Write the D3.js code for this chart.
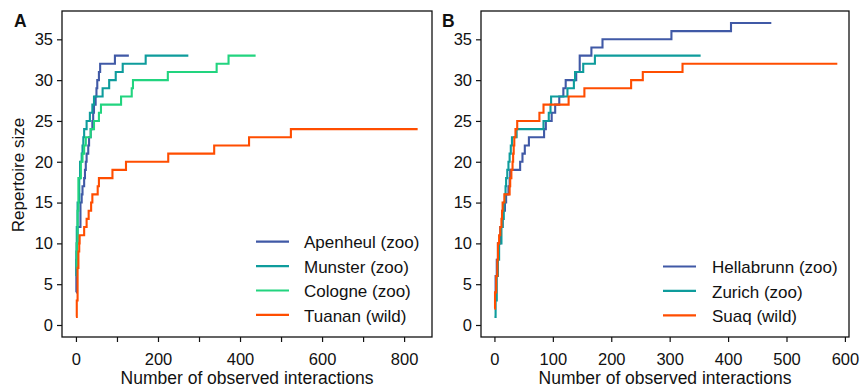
<!DOCTYPE html>
<html><head><meta charset="utf-8">
<script src="https://cdn.jsdelivr.net/npm/d3@7"></script>
<style>
body{margin:0;background:#fff;}
text{font-family:"Liberation Sans",Arial,sans-serif;fill:#111;}
</style></head>
<body><svg id="c" width="860" height="388"></svg>
<script>
// ---- Data ----
const apenheulX = [0,1,2,4,11,14,16,20,22,24,26,30,32,36,40,42,44,48,50,52,56,59,95,129];
const apenheulY = [4,8,10,12,15,16,17,18,19,20,21,22,23,24,25,26,27,28,29,30,31,32,33,33];
const munsterX = [0,1,2,4,8,10,14,16,18,20,26,34,40,44,65,81,97,114,170,274];
const munsterY = [6,9,12,15,18,20,21,22,23,24,25,26,27,28,29,30,31,32,33,33];
const cologneX = [0,2,4,6,12,16,20,24,36,44,56,61,110,136,139,224,343,372,438];
const cologneY = [7,10,14,18,20,21,22,23,24,25,26,27,28,29,30,31,32,33,33];
const tuananX = [0,2,4,6,8,9,20,26,31,37,40,53,56,89,122,225,337,422,524,833];
const tuananY = [1,3,7,9,10,11,12,13,14,15,16,17,18,19,20,21,22,23,24,24];

const hellabrunnX = [0,2,4,6,10,14,18,20,24,26,27,44,48,52,59,85,88,98,104,111,118,122,140,146,166,185,303,405,474];
const hellabrunnY = [4,6,8,10,12,14,15,16,17,18,19,20,21,22,23,24,25,26,27,28,29,30,31,33,34,35,36,37,37];
const zurichX = [0,2,4,6,8,12,14,16,18,19,20,22,24,26,28,30,38,84,93,96,97,125,136,138,152,172,353];
const zurichY = [1,3,6,8,10,12,13,15,16,17,18,19,20,21,22,23,24,25,26,27,28,29,30,31,32,33,33];
const suaqX = [0,1,3,5,6,8,10,12,13,14,17,26,27,29,31,32,33,34,36,39,77,84,127,154,234,254,322,587];
const suaqY = [2,4,6,8,10,11,12,13,14,15,16,17,18,19,20,21,22,23,24,25,26,27,28,29,30,31,32,32];

const namesA = ["Apenheul (zoo)","Munster (zoo)","Cologne (zoo)","Tuanan (wild)"];
const namesB = ["Hellabrunn (zoo)","Zurich (zoo)","Suaq (wild)"];
const yTicks = [0,5,10,15,20,25,30,35];
const xTicksA = [0,100,200,300,400,500,600,700,800];
const xLabelsA = [0,200,400,600,800];
const xTicksB = [0,100,200,300,400,500,600];

const cBlue="#4059A6", cTeal="#0E9C9C", cGreen="#22D47F", cOrange="#FF4D00";

const seriesA = [
  {name:namesA[0], xs:apenheulX, ys:apenheulY, color:cBlue},
  {name:namesA[1], xs:munsterX, ys:munsterY, color:cTeal},
  {name:namesA[2], xs:cologneX, ys:cologneY, color:cGreen},
  {name:namesA[3], xs:tuananX, ys:tuananY, color:cOrange}
];
const seriesB = [
  {name:namesB[0], xs:hellabrunnX, ys:hellabrunnY, color:cBlue},
  {name:namesB[1], xs:zurichX, ys:zurichY, color:cTeal},
  {name:namesB[2], xs:suaqX, ys:suaqY, color:cOrange}
];

const svg = d3.select("#c");
const y = d3.scaleLinear().domain([-1.47, 38.47]).range([337, 11]);

function panel(opts){
  const {x, left, right, series, xTicks, xLabels, letter, letterX, legendLineX, legendTextX, legendY0, showYTitle} = opts;
  const g = svg.append("g");
  const xa = d3.axisBottom(x).tickValues(xTicks).tickSize(5).tickPadding(11.5)
     .tickFormat(d => xLabels.includes(d) ? d : "");
  const gx = g.append("g").attr("transform","translate(0,337)").call(xa);
  const ya = d3.axisLeft(y).tickValues(yTicks).tickSize(5).tickPadding(4);
  const gy = g.append("g").attr("transform",`translate(${left},0)`).call(ya);
  [gx,gy].forEach(a=>{
    a.select(".domain").remove();
    a.selectAll("line").attr("stroke","#111").attr("stroke-width",1.2);
    a.selectAll("text").attr("font-size",16.5).attr("font-family","Liberation Sans, Arial, sans-serif").attr("fill","#111");
  });
  const line = d3.line().curve(d3.curveStepAfter).x(d=>x(d[0])).y(d=>y(d[1]));
  series.forEach(s=>{
    const pts = s.xs.map((v,i)=>[v,s.ys[i]]);
    g.append("path").attr("d",line(pts)).attr("fill","none")
      .attr("stroke",s.color).attr("stroke-width",2.1);
  });
  g.append("rect").attr("x",left).attr("y",11).attr("width",right-left).attr("height",326)
    .attr("fill","none").attr("stroke","#111").attr("stroke-width",1.3);
  series.forEach((s,i)=>{
    const ly = legendY0 + i*24.4;
    g.append("line").attr("x1",legendLineX).attr("x2",legendLineX+33).attr("y1",ly).attr("y2",ly)
      .attr("stroke",s.color).attr("stroke-width",2.2);
    g.append("text").attr("x",legendTextX).attr("y",ly+6.6).attr("font-size",17).text(s.name);
  });
  g.append("text").attr("x",(left+right)/2).attr("y",384).attr("text-anchor","middle")
    .attr("font-size",17.5).text("Number of observed interactions");
  if(showYTitle){
    g.append("text").attr("transform","translate(24,175) rotate(-90)").attr("text-anchor","middle")
      .attr("font-size",17).text("Repertoire size");
  }
  g.append("text").attr("x",letterX).attr("y",26.7).attr("font-size",17.5).attr("font-weight","bold").text(letter);
}

panel({
  x: d3.scaleLinear().domain([-34, 868]).range([62, 432]),
  left:62, right:432, series:seriesA, xTicks:xTicksA, xLabels:xLabelsA,
  letter:"A", letterX:14, legendLineX:256, legendTextX:304, legendY0:241.7, showYTitle:true
});
panel({
  x: d3.scaleLinear().domain([-23, 607]).range([481, 849]),
  left:481, right:849, series:seriesB, xTicks:xTicksB, xLabels:xTicksB,
  letter:"B", letterX:442, legendLineX:663, legendTextX:712, legendY0:266.5, showYTitle:false
});
</script></body></html>
